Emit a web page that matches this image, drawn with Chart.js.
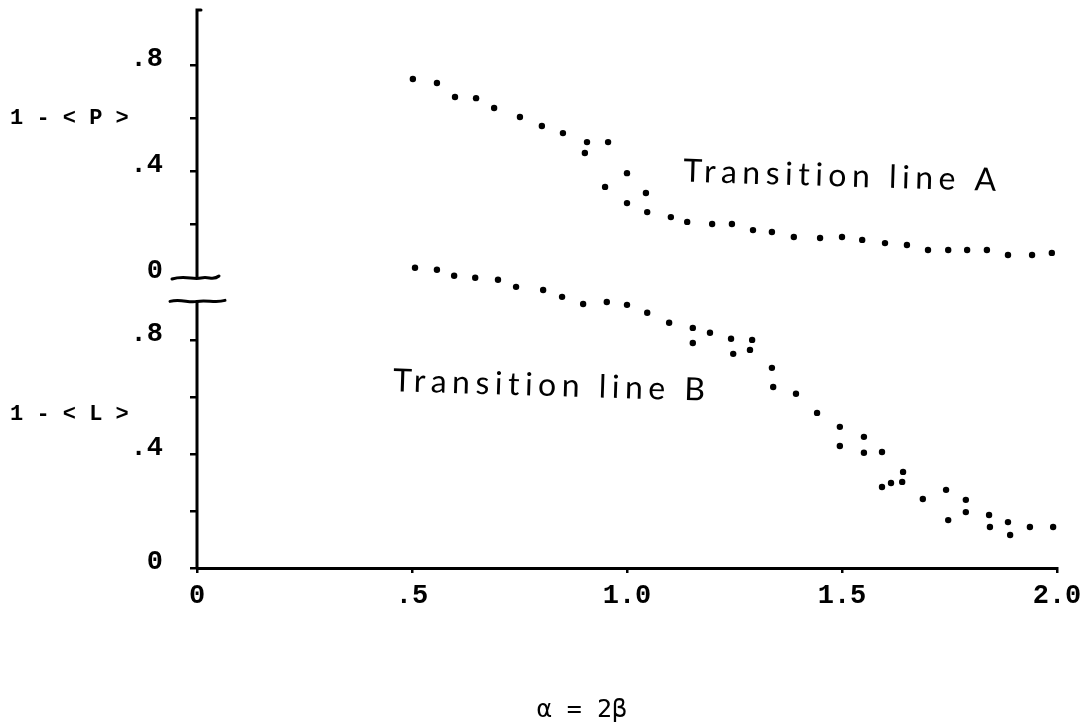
<!DOCTYPE html>
<html lang="en">
<head>
  <meta charset="UTF-8">
  <title>Transition lines A and B</title>
  <script src="https://cdn.jsdelivr.net/npm/chart.js"></script>
  <style>
    body {
      margin: 0;
      background: #fff;
    }
    #wrap {
      width: 1081px;
      height: 725px;
    }
  </style>
</head>
<body>
  <div id="wrap"><canvas id="plot"></canvas></div>

  <script>
    // alpha values and 1-<P> for transition line A
    const lineAx = [0.502, 0.558, 0.600, 0.649, 0.691, 0.751, 0.802, 0.851, 0.907, 0.902, 0.956, 1.000,
      0.949, 1.044, 1.000, 1.047, 1.102, 1.140, 1.198, 1.244, 1.293, 1.337, 1.388, 1.449, 1.500, 1.547,
      1.600, 1.651, 1.700, 1.747, 1.791, 1.837, 1.886, 1.942, 1.988];
    const lineAy = [0.747, 0.732, 0.679, 0.675, 0.638, 0.604, 0.570, 0.543, 0.509, 0.468, 0.509, 0.392,
      0.340, 0.317, 0.279, 0.245, 0.226, 0.208, 0.200, 0.200, 0.177, 0.170, 0.151, 0.147, 0.151, 0.140,
      0.128, 0.121, 0.102, 0.102, 0.102, 0.102, 0.083, 0.083, 0.091];

    // alpha values and 1-<L> for transition line B
    const lineBx = [0.507, 0.558, 0.598, 0.647, 0.700, 0.742, 0.805, 0.849, 0.898, 0.953, 1.000, 1.047,
      1.098, 1.153, 1.153, 1.193, 1.242, 1.247, 1.291, 1.286, 1.337, 1.340, 1.393, 1.442, 1.495, 1.495,
      1.551, 1.551, 1.593, 1.642, 1.640, 1.593, 1.614, 1.688, 1.742, 1.747, 1.788, 1.788, 1.842, 1.844,
      1.886, 1.891, 1.937, 1.991];
    const lineBy = [1.053, 1.046, 1.025, 1.018, 1.011, 0.986, 0.975, 0.951, 0.926, 0.933, 0.923, 0.895,
      0.860, 0.842, 0.789, 0.825, 0.804, 0.751, 0.800, 0.765, 0.702, 0.635, 0.611, 0.544, 0.495, 0.428,
      0.460, 0.404, 0.407, 0.337, 0.302, 0.284, 0.298, 0.242, 0.274, 0.168, 0.239, 0.196, 0.186, 0.144,
      0.161, 0.116, 0.144, 0.144];

    const xTicks = [0, 0.5, 1.0, 1.5, 2.0];
    const xTickLabels = ['0', '.5', '1.0', '1.5', '2.0'];
    const yTicks = [0, 0.2, 0.4, 0.6, 0.8];
    const yTickLabels = ['0', '', '.4', '', '.8'];

    const mono = 'Liberation Mono, Courier New, monospace';
    const hand = 'Lato, Noto Sans, sans-serif';

    function toPoints(xs, ys) {
      return xs.map((x, i) => ({ x: x, y: ys[i] }));
    }

    function yAxis(min, max, hideZeroTick) {
      return {
        type: 'linear',
        position: 'left',
        stack: 'panels',
        stackWeight: 1,
        min: min,
        max: max,
        afterBuildTicks: (s) => { s.ticks = yTicks.map(v => ({ value: v })); },
        afterFit: (s) => {
          s.width = 197;
          s.paddingTop = 0;
          s.paddingBottom = 0;
        },
        border: { display: false },
        grid: {
          drawOnChartArea: false,
          drawTicks: true,
          tickLength: 7,
          lineWidth: 2.5,
          color: (c) => (hideZeroTick && c.tick && c.tick.value === 0) ? 'rgba(0,0,0,0)' : '#000'
        },
        ticks: {
          color: '#000',
          font: { family: mono, size: 27, weight: 'bold' },
          padding: 27,
          labelOffset: -6,
          callback: (v) => {
            const i = yTicks.indexOf(v);
            return i < 0 ? '' : yTickLabels[i];
          }
        }
      };
    }

    // axis lines, scale breaks and the hand-written captions
    const decorations = {
      id: 'decorations',
      afterDraw(chart) {
        const ctx = chart.ctx;
        const sx = chart.scales.x, sp = chart.scales.yP, sl = chart.scales.yL;
        const x0 = sx.getPixelForValue(0);
        const pTop = sp.getPixelForValue(1.0) - 2;
        const pZero = sp.getPixelForValue(0);
        const lTop = sl.getPixelForValue(0.935);
        const lZero = sl.getPixelForValue(0);

        ctx.save();
        ctx.strokeStyle = '#000';
        ctx.lineWidth = 3;
        ctx.lineCap = 'round';

        ctx.beginPath();
        ctx.moveTo(x0 + 4, pTop);
        ctx.lineTo(x0, pTop);
        ctx.lineTo(x0, pZero);
        ctx.moveTo(x0, lTop);
        ctx.lineTo(x0, lZero);
        ctx.stroke();

        // wavy break marks
        ctx.beginPath();
        ctx.moveTo(x0 - 25, pZero + 2);
        ctx.bezierCurveTo(x0 - 12, pZero - 2, x0 - 4, pZero + 3, x0 + 4, pZero + 1);
        ctx.bezierCurveTo(x0 + 12, pZero - 1, x0 + 16, pZero + 4, x0 + 22, pZero - 1);
        ctx.moveTo(x0 - 27, lTop);
        ctx.bezierCurveTo(x0 - 16, lTop - 3, x0 - 8, lTop + 2, x0, lTop);
        ctx.bezierCurveTo(x0 + 10, lTop - 2, x0 + 18, lTop + 2, x0 + 28, lTop - 1);
        ctx.stroke();

        ctx.fillStyle = '#000';
        ctx.textBaseline = 'middle';
        ctx.textAlign = 'left';
        ctx.font = 'bold 22px ' + mono;
        ctx.fillText('1 - < P >', 10, sp.getPixelForValue(0.6));
        ctx.fillText('1 - < L >', 10, sl.getPixelForValue(0.54));

        ctx.textBaseline = 'alphabetic';
        ctx.font = '32px ' + hand;
        ctx.letterSpacing = '5.5px';
        ctx.save();
        ctx.translate(sx.getPixelForValue(1.13), sp.getPixelForValue(0.36));
        ctx.rotate(0.03);
        ctx.fillText('Transition line A', 0, 0);
        ctx.restore();
        ctx.save();
        ctx.translate(sx.getPixelForValue(0.455), sl.getPixelForValue(0.62));
        ctx.rotate(0.03);
        ctx.fillText('Transition line B', 0, 0);
        ctx.restore();

        ctx.letterSpacing = '0px';
        ctx.textAlign = 'center';
        ctx.textBaseline = 'middle';
        ctx.font = '25px DejaVu Sans Mono, monospace';
        ctx.fillText('\u03b1 = 2\u03b2', sx.getPixelForValue(0.895), sx.top + 142);
        ctx.restore();
      }
    };

    const dotStyle = {
      showLine: false,
      clip: false,
      pointRadius: 3.2,
      pointHoverRadius: 3.2,
      pointBackgroundColor: '#000',
      pointBorderWidth: 0
    };

    new Chart(document.getElementById('plot'), {
      type: 'scatter',
      data: {
        datasets: [
          Object.assign({ label: 'Transition line A', data: toPoints(lineAx, lineAy), yAxisID: 'yP' }, dotStyle),
          Object.assign({ label: 'Transition line B', data: toPoints(lineBx, lineBy), yAxisID: 'yL' }, dotStyle)
        ]
      },
      options: {
        responsive: true,
        maintainAspectRatio: false,
        animation: false,
        events: [],
        layout: { padding: { top: 12, right: 24, left: 0, bottom: 0 } },
        plugins: {
          legend: { display: false },
          tooltip: { enabled: false }
        },
        scales: {
          x: {
            type: 'linear',
            min: 0,
            max: 2,
            afterBuildTicks: (s) => { s.ticks = xTicks.map(v => ({ value: v })); },
            afterFit: (s) => {
              s.height = 157;
              s.paddingLeft = 0;
              s.paddingRight = 0;
            },
            border: { display: true, color: '#000', width: 3 },
            grid: {
              drawOnChartArea: false,
              drawTicks: true,
              tickLength: 5,
              lineWidth: 2.5,
              color: '#000'
            },
            ticks: {
              color: '#000',
              font: { family: mono, size: 27, weight: 'bold' },
              padding: 7,
              maxRotation: 0,
              callback: (v) => {
                const i = xTicks.indexOf(v);
                return i < 0 ? '' : xTickLabels[i];
              }
            }
          },
          yL: yAxis(0, 0.975, false),
          yP: yAxis(-0.049, 1.0, true)
        }
      },
      plugins: [decorations]
    });
  </script>
</body>
</html>
